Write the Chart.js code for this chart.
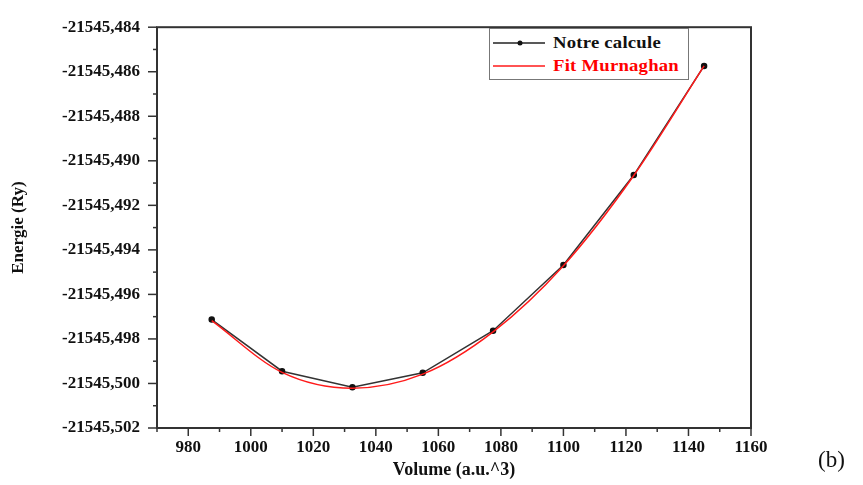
<!DOCTYPE html>
<html>
<head>
<meta charset="utf-8">
<script src="https://cdn.jsdelivr.net/npm/chart.js@4/dist/chart.umd.min.js"></script>
<style>
  body { margin: 0; background: #fff; }
  #wrap { position: relative; width: 863px; height: 485px; }
  #legend {
    position: absolute; left: 489px; top: 28px; width: 198px; height: 50px;
    border: 1px solid #777; background: #fff;
    font: bold 17px "Liberation Serif", "Times New Roman", serif;
  }
  .row { position: absolute; left: 0; height: 20px; display: flex; align-items: center; }
  .row svg { margin-left: 3px; margin-right: 8px; }
  .row span { display: inline-block; transform: scaleX(1.1); transform-origin: left center; letter-spacing: 0.2px; }
  #tag { position: absolute; left: 818px; top: 447px; font: 23px "Liberation Serif", serif; color: #111; }
</style>
</head>
<body>
<div id="wrap">
  <canvas id="chart" width="863" height="485"></canvas>
  <div id="legend">
    <div class="row" style="top:4px">
      <svg width="52" height="8"><line x1="0" y1="4" x2="52" y2="4" stroke="#222" stroke-width="1.5"/><circle cx="27" cy="4" r="2.5" fill="#111"/></svg>
      <span style="color:#111">Notre calcule</span>
    </div>
    <div class="row" style="top:27px">
      <svg width="52" height="8"><line x1="0" y1="4" x2="52" y2="4" stroke="#ff1a1a" stroke-width="1.5"/></svg>
      <span style="color:#ff0000">Fit Murnaghan</span>
    </div>
  </div>
  <div id="tag">(b)</div>
</div>
<script>
// values
const volume = [987.5, 1010, 1032.5, 1055, 1077.5, 1100, 1122.5, 1145];
const energy = [-21545.49713, -21545.49945, -21545.50017, -21545.49952, -21545.49763, -21545.49468, -21545.49064, -21545.48574];
const fitEnergy = [-21545.49718, -21545.49950, -21545.50021, -21545.49958, -21545.49768, -21545.49471, -21545.49066, -21545.48574];

const seriesNames = ['Notre calcule', 'Fit Murnaghan'];
const xRange = [970, 1160];
const yRange = [-21545.502, -21545.484];

const tickFont = { family: 'Liberation Serif', size: 17, weight: 'bold' };

function toPoints(xs, ys) {
  return xs.map((x, i) => ({ x: x, y: ys[i] }));
}

// draws the box round the plot and the outward major/minor ticks
const frame = {
  id: 'frame',
  afterDraw(chart) {
    const ctx = chart.ctx;
    const a = chart.chartArea;
    ctx.save();
    ctx.strokeStyle = '#333';
    ctx.lineWidth = 1.5;
    chart.scales.x.ticks.forEach(t => {
      let px = chart.scales.x.getPixelForValue(t.value);
      let len = (t.label === '' ? 4 : 8);
      ctx.beginPath();
      ctx.moveTo(px, a.bottom);
      ctx.lineTo(px, a.bottom + len);
      ctx.stroke();
    });
    chart.scales.y.ticks.forEach(t => {
      let py = chart.scales.y.getPixelForValue(t.value);
      let len = (t.label === '' ? 4 : 9);
      ctx.beginPath();
      ctx.moveTo(a.left, py);
      ctx.lineTo(a.left - len, py);
      ctx.stroke();
    });
    ctx.lineWidth = 2;
    ctx.strokeRect(a.left, a.top, a.right - a.left, a.bottom - a.top);
    ctx.restore();
  }
};

new Chart(document.getElementById('chart').getContext('2d'), {
  type: 'scatter',
  data: {
    datasets: [{
      label: seriesNames[1],
      data: toPoints(volume, fitEnergy),
      showLine: true,
      borderColor: '#ff1a1a',
      borderWidth: 1.5,
      pointRadius: 0,
      cubicInterpolationMode: 'monotone',
      order: 0
    }, {
      label: seriesNames[0],
      data: toPoints(volume, energy),
      showLine: true,
      borderColor: '#333',
      borderWidth: 1.5,
      backgroundColor: '#111',
      pointBorderColor: '#111',
      pointRadius: 2.5,
      tension: 0,
      order: 1
    }]
  },
  options: {
    responsive: false,
    animation: false,
    layout: { padding: { top: 24, right: 112, left: 0, bottom: 0 } },
    plugins: { legend: { display: false }, tooltip: { enabled: false } },
    scales: {
      x: {
        type: 'linear',
        min: xRange[0],
        max: xRange[1],
        afterFit: s => { s.height = 57; },
        grid: { display: false, drawTicks: false },
        border: { display: false },
        ticks: {
          stepSize: 10,
          autoSkip: false,
          maxRotation: 0,
          padding: 9,
          color: '#111',
          font: tickFont,
          callback: v => (v % 20 === 0 ? String(v) : '')
        },
        title: {
          display: true,
          text: 'Volume (a.u.^3)',
          color: '#111',
          font: { family: 'Liberation Serif', size: 18, weight: 'bold' },
          padding: { top: 0, bottom: 4 }
        }
      },
      y: {
        type: 'linear',
        min: yRange[0],
        max: yRange[1],
        afterFit: s => { s.width = 157; },
        grid: { display: false, drawTicks: false },
        border: { display: false },
        ticks: {
          stepSize: 0.001,
          autoSkip: false,
          padding: 17,
          color: '#111',
          font: tickFont,
          callback: v => (Math.abs(Math.round(v * 1000)) % 2 === 0 ? v.toFixed(3).replace('.', ',') : '')
        },
        title: {
          display: true,
          text: 'Energie (Ry)',
          color: '#111',
          font: { family: 'Liberation Serif', size: 17, weight: 'bold' },
          padding: { top: 8, bottom: 0 }
        }
      }
    }
  },
  plugins: [frame]
});
</script>
</body>
</html>
